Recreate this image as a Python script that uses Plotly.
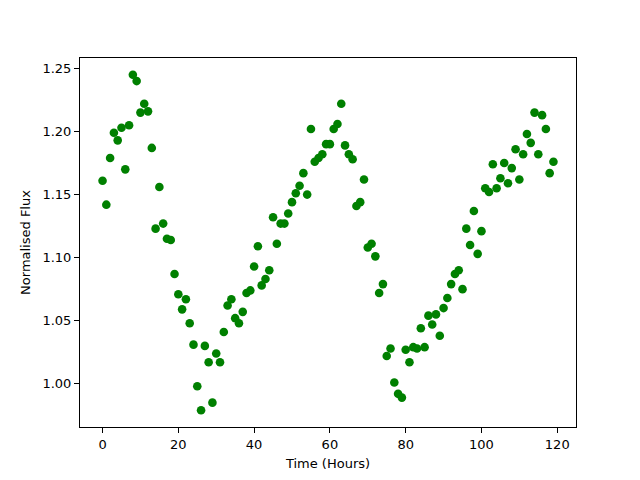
import plotly.graph_objects as go

hours = list(range(120))
flux = [
    1.161, 1.142, 1.179, 1.199, 1.193, 1.203, 1.170, 1.205, 1.245, 1.240,
    1.215, 1.222, 1.216, 1.187, 1.123, 1.156, 1.127, 1.115, 1.114, 1.087,
    1.071, 1.059, 1.067, 1.048, 1.031, 0.998, 0.979, 1.030, 1.017, 0.985,
    1.024, 1.017, 1.041, 1.062, 1.067, 1.052, 1.048, 1.057, 1.072, 1.074,
    1.093, 1.109, 1.078, 1.083, 1.090, 1.132, 1.111, 1.127, 1.127, 1.135,
    1.144, 1.151, 1.157, 1.167, 1.150, 1.202, 1.176, 1.179, 1.182, 1.190,
    1.190, 1.202, 1.206, 1.222, 1.189, 1.182, 1.178, 1.141, 1.144, 1.162,
    1.108, 1.111, 1.101, 1.072, 1.079, 1.022, 1.028, 1.001, 0.992, 0.989,
    1.027, 1.017, 1.029, 1.028, 1.044, 1.029, 1.054, 1.047, 1.055, 1.038,
    1.060, 1.068, 1.079, 1.087, 1.090, 1.075, 1.123, 1.110, 1.137, 1.103,
    1.121, 1.155, 1.152, 1.174, 1.155, 1.163, 1.175, 1.159, 1.171, 1.186,
    1.162, 1.182, 1.198, 1.191, 1.215, 1.182, 1.213, 1.202, 1.167, 1.176,
]
x_ticks = [0, 20, 40, 60, 80, 100, 120]
y_ticks = [1.00, 1.05, 1.10, 1.15, 1.20, 1.25]

fig = go.Figure(go.Scatter(
    x=hours, y=flux, mode="markers",
    marker=dict(color="#008000", size=8.6, line=dict(width=0)),
))

font = dict(family="DejaVu Sans", size=13, color="black")
axis_common = dict(
    showline=True, linecolor="black", linewidth=1, mirror=True,
    ticks="outside", ticklen=5, tickcolor="black", tickwidth=1,
    showgrid=False, zeroline=False, tickfont=font,
)
xmin, xmax = min(hours), max(hours)
ymin, ymax = min(flux), max(flux)
xm = (xmax - xmin) * 0.05
ym = (ymax - ymin) * 0.05
fig.update_xaxes(range=[xmin - xm, xmax + xm], tickvals=x_ticks,
                 title=dict(text="Time (Hours)", font=font, standoff=8), **axis_common)
fig.update_yaxes(range=[ymin - ym, ymax + ym], tickvals=y_ticks, tickformat=".2f",
                 title=dict(text="Normalised Flux", font=font, standoff=8), **axis_common)
fig.update_layout(
    width=640, height=480,
    margin=dict(l=72, r=72, t=50, b=61),
    plot_bgcolor="white", paper_bgcolor="white",
    showlegend=False, font=font,
)
fig.write_html("out.html")
